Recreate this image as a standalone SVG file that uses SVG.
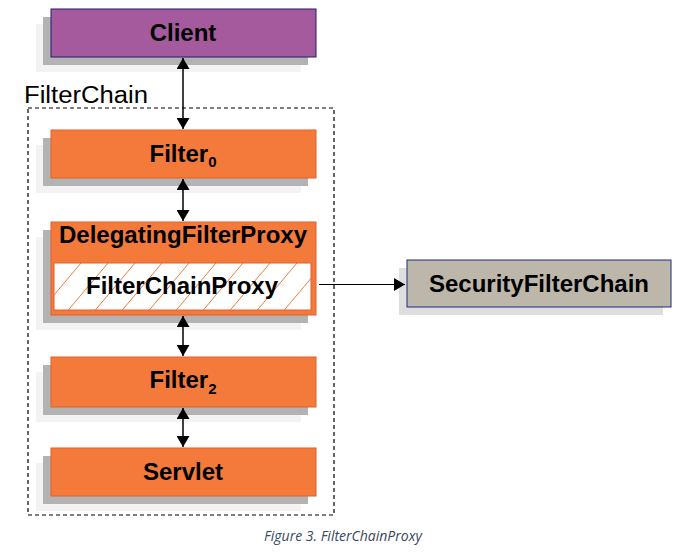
<svg xmlns="http://www.w3.org/2000/svg" width="682" height="554" viewBox="0 0 682 554">
<style>
.lt{fill:#f3f3f3}
.sh{fill:#b3b3b3}
.or{fill:#f47a3c;stroke:#e35f2a;stroke-width:1}
.t{font-family:"Liberation Sans",Arial,sans-serif;font-weight:bold;font-size:24px;fill:#000;text-anchor:middle}
.sub{font-size:15px}
.ln{stroke:#000;stroke-width:1.5;fill:none}
</style>
<defs>
<marker id="ah" viewBox="0 0 11 13" refX="11" refY="6.5" markerWidth="11" markerHeight="13" markerUnits="userSpaceOnUse" orient="auto-start-reverse">
<path d="M0,0 L11,6.5 L0,13 Z" fill="#000"/>
</marker>
<pattern id="hatch" patternUnits="userSpaceOnUse" width="27" height="32" x="54" y="263">
<line x1="0" y1="32" x2="27" y2="0" stroke="#f47a3c" stroke-width="1"/>
</pattern>
</defs>

<g id="filterchain">
<rect x="28" y="108" width="306" height="407" fill="none" stroke="#000" stroke-width="1.2" stroke-dasharray="4,3"/>
<text x="24" y="103" font-family="'Liberation Sans',Arial,sans-serif" font-size="23" textLength="124" lengthAdjust="spacingAndGlyphs">FilterChain</text>
</g>

<g id="client">
<rect class="lt" x="36" y="24" width="265" height="48"/>
<rect class="sh" x="43" y="17" width="265" height="48"/>
<rect x="51" y="9" width="265" height="48" fill="#a65a9e" stroke="#1c1c6a" stroke-width="1"/>
<text class="t" x="183" y="41">Client</text>
</g>

<g id="filter0">
<rect class="lt" x="36" y="145" width="265" height="48"/>
<rect class="sh" x="43" y="138" width="265" height="48"/>
<rect class="or" x="51" y="130" width="265" height="48"/>
<text class="t" x="183" y="162">Filter<tspan class="sub" dy="5">0</tspan></text>
</g>

<g id="delegatingfilterproxy">
<rect class="lt" x="36" y="237" width="265" height="93"/>
<rect class="sh" x="43" y="230" width="265" height="93"/>
<rect class="or" x="51" y="222" width="265" height="93"/>
<text class="t" x="183" y="243">DelegatingFilterProxy</text>
<g id="filterchainproxy">
<rect x="54" y="263" width="257" height="47" fill="#fff"/>
<rect x="54" y="263" width="257" height="47" fill="url(#hatch)" stroke="#e35f2a" stroke-width="1"/>
<text class="t" x="182" y="294">FilterChainProxy</text>
</g>
</g>

<g id="filter2">
<rect class="lt" x="36" y="372" width="265" height="50"/>
<rect class="sh" x="43" y="365" width="265" height="50"/>
<rect class="or" x="51" y="357" width="265" height="50"/>
<text class="t" x="183" y="388">Filter<tspan class="sub" dy="6">2</tspan></text>
</g>

<g id="servlet">
<rect class="lt" x="36" y="463" width="265" height="48"/>
<rect class="sh" x="43" y="456" width="265" height="48"/>
<rect class="or" x="51" y="448" width="265" height="48"/>
<text class="t" x="183" y="480">Servlet</text>
</g>

<g id="securityfilterchain">
<rect x="399" y="268" width="264" height="47" fill="#dedede"/>
<rect x="407" y="260" width="264" height="47" fill="#bdb7ab" stroke="#1c2a7e" stroke-width="1"/>
<text class="t" x="539" y="292">SecurityFilterChain</text>
</g>

<g id="connectors">
<line class="ln" x1="183" y1="58" x2="183" y2="129" marker-start="url(#ah)" marker-end="url(#ah)"/>
<line class="ln" x1="183" y1="179" x2="183" y2="221" marker-start="url(#ah)" marker-end="url(#ah)"/>
<line class="ln" x1="183" y1="316" x2="183" y2="356" marker-start="url(#ah)" marker-end="url(#ah)"/>
<line class="ln" x1="183" y1="408" x2="183" y2="447" marker-start="url(#ah)" marker-end="url(#ah)"/>
<line x1="319" y1="284.5" x2="405" y2="284.5" stroke="#000" stroke-width="1" marker-end="url(#ah)"/>
</g>

<text x="343" y="541" text-anchor="middle" font-family="'Open Sans','Noto Sans',sans-serif" font-style="italic" font-size="14" fill="#34495e">Figure 3. FilterChainProxy</text>
</svg>
